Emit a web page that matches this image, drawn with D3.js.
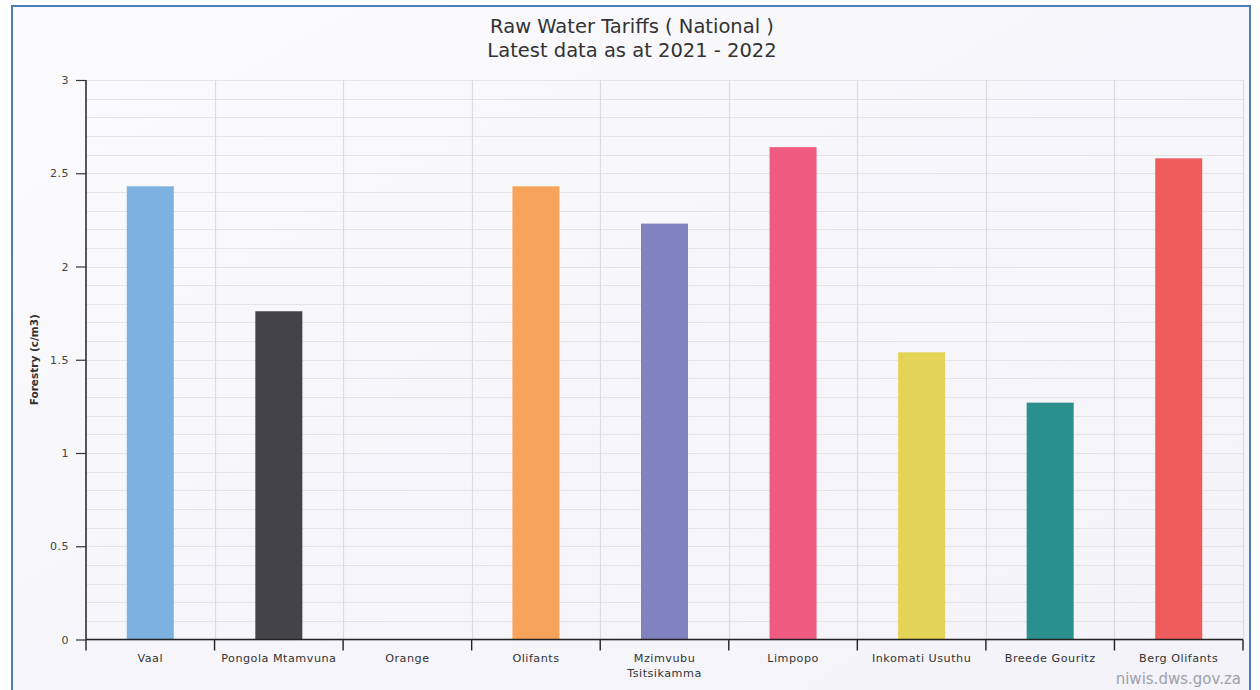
<!DOCTYPE html>
<html><head><meta charset="utf-8">
<script src="https://cdn.jsdelivr.net/npm/d3@7"></script>
<style>
html,body{margin:0;padding:0;background:#fff;}
svg{display:block;}
</style></head>
<body>
<svg id="chart" width="1260" height="690"></svg>
<script>
const categories = ["Vaal","Pongola Mtamvuna","Orange","Olifants","Mzimvubu Tsitsikamma","Limpopo","Inkomati Usuthu","Breede Gouritz","Berg Olifants"];
const values = [2.43, 1.76, 0, 2.43, 2.23, 2.64, 1.54, 1.27, 2.58];
const colors = ["#7cb1e0","#434348","#90ed7d","#f7a35c","#8083bf","#ef5b80","#e3d356","#2a908e","#ef5c5c"];
const yTicks = [0, 0.5, 1, 1.5, 2, 2.5, 3];
const yMinorTicks = d3.range(0, 31).map(i => i / 10);
const titleLines = ["Raw Water Tariffs ( National )", "Latest data as at 2021 - 2022"];
const yLabel = "Forestry (c/m3)";
const credit = "niwis.dws.gov.za";

const svg = d3.select("#chart");
const W = 1260, H = 690;
const m = {left: 86, right: 1243, top: 80, bottom: 639.5};
const FONT = "'DejaVu Sans', Verdana, sans-serif";

// background
const defs = svg.append("defs");
const grad = defs.append("linearGradient").attr("id","bg").attr("x1","0").attr("y1","0").attr("x2","1").attr("y2","1");
grad.append("stop").attr("offset","0").attr("stop-color","#fbfbfd");
grad.append("stop").attr("offset","1").attr("stop-color","#f2f2f8");
svg.append("rect").attr("x",0).attr("y",0).attr("width",W).attr("height",H).attr("fill","#ffffff");
svg.append("rect").attr("x",12).attr("y",6).attr("width",1238).attr("height",700)
  .attr("fill","url(#bg)").attr("stroke","#4d7dbb").attr("stroke-width",2);

const x = d3.scaleBand().domain(categories).range([m.left, m.right]).paddingInner(0).paddingOuter(0);
const y = d3.scaleLinear().domain([0, 3]).range([m.bottom, m.top]);

// minor horizontal grid
svg.append("g").selectAll("line").data(yMinorTicks).join("line")
  .attr("x1", m.left).attr("x2", m.right)
  .attr("y1", d => Math.round(y(d)) + 0.5).attr("y2", d => Math.round(y(d)) + 0.5)
  .attr("stroke", "#e3e3e8").attr("stroke-width", 1.2);

// vertical grid at band boundaries
const bounds = categories.map(c => x(c)).concat([m.right]);
svg.append("g").selectAll("line").data(bounds.slice(1)).join("line")
  .attr("x1", d => Math.round(d) + 0.5).attr("x2", d => Math.round(d) + 0.5)
  .attr("y1", m.top).attr("y2", m.bottom)
  .attr("stroke", "#dcdcdf").attr("stroke-width", 1.2);

// bars
const bw = 47;
svg.append("g").selectAll("rect").data(categories).join("rect")
  .attr("x", (c) => x(c) + x.bandwidth()/2 - bw/2)
  .attr("y", (c,i) => y(values[i]))
  .attr("width", bw)
  .attr("height", (c,i) => y(0) - y(values[i]))
  .attr("fill", (c,i) => colors[i]);

// y axis
const yAxis = d3.axisLeft(y).tickValues(yTicks).tickSize(10).tickPadding(7).tickFormat(d3.format("~g"));
const gy = svg.append("g").attr("transform", `translate(${m.left},0)`).call(yAxis);
gy.select(".domain").attr("stroke","#222").attr("stroke-width",1.5).attr("d", `M0,${m.top}V${m.bottom}`);
gy.selectAll(".tick line").attr("stroke","#333").attr("stroke-width",1.2);
gy.selectAll(".tick text").attr("font-family",FONT).attr("font-size",11).attr("letter-spacing",0.5).attr("fill","#444");

// x axis
const xAxis = d3.axisBottom(x).tickSize(0).tickFormat("");
const gx = svg.append("g").attr("transform", `translate(0,${m.bottom})`).call(xAxis);
gx.select(".domain").attr("stroke","#222").attr("stroke-width",1.5).attr("d", `M${m.left},0H${m.right}`);
gx.selectAll(".tick").remove();
gx.append("g").selectAll("line").data(bounds).join("line")
  .attr("x1", d => d).attr("x2", d => d).attr("y1", 0).attr("y2", 11)
  .attr("stroke","#222").attr("stroke-width",1.4);
const lab = gx.append("g").selectAll("text").data(categories).join("text")
  .attr("x", c => x(c) + x.bandwidth()/2)
  .attr("y", 22)
  .attr("text-anchor","middle")
  .attr("font-family",FONT)
  .attr("font-size",11.2).attr("letter-spacing",0.5).attr("fill","#333");
lab.each(function(c){
  const t = d3.select(this);
  const parts = c === "Mzimvubu Tsitsikamma" ? ["Mzimvubu","Tsitsikamma"] : [c];
  parts.forEach((p,i) => t.append("tspan").attr("x", x(c) + x.bandwidth()/2).attr("dy", i === 0 ? 0 : 15).text(p));
});

// y label
svg.append("text")
  .attr("transform", `translate(38,${(m.top+m.bottom)/2}) rotate(-90)`)
  .attr("text-anchor","middle")
  .attr("font-family",FONT)
  .attr("font-size",10.5).attr("font-weight","bold").attr("fill","#333")
  .text(yLabel);

// title
svg.append("g").selectAll("text").data(titleLines).join("text")
  .attr("x", 632).attr("y", (d,i) => 33 + i*24)
  .attr("text-anchor","middle")
  .attr("font-family",FONT)
  .attr("font-size",19.5).attr("fill","#333")
  .text(d => d);

// credit
svg.append("text").attr("x", 1241).attr("y", 684).attr("text-anchor","end")
  .attr("font-family",FONT)
  .attr("font-size",15).attr("fill","#a0a0a8").text(credit);
</script>
</body></html>
